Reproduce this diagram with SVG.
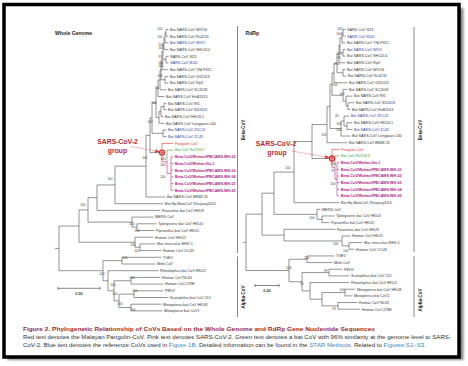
<svg xmlns="http://www.w3.org/2000/svg" width="468" height="366" viewBox="0 0 468 366">
<style>
.br{fill:none;stroke:#3a3a3a;stroke-width:0.55}
.pk{fill:none;stroke:#c02a80;stroke-width:0.6}
.gl{fill:none;stroke:#3c9a3c;stroke-width:0.6}
.rl{fill:none;stroke:#d33;stroke-width:0.6}
.cb{fill:none;stroke:#333;stroke-width:0.6}
text{font-family:"Liberation Sans",Arial,sans-serif}
.lb text{font-size:3.7px;fill:#333}
.bl{fill:#2c3d98 !important}
.rd{fill:#d33 !important}
.gn{fill:#3c9a3c !important}
.sc{fill:#b0187c !important;font-weight:bold}
.bs text{font-size:3.2px;fill:#444;text-anchor:middle}
.ttl{font-size:5.1px;font-weight:bold;fill:#222}
.clade{font-size:4.5px;font-weight:bold;fill:#222;text-anchor:middle}
.grp{font-size:6.8px;font-weight:bold;fill:#c0282d;text-anchor:middle}
.cap{font-size:5.6px;fill:#333}
.lk{fill:#3d86c6}
</style>
<defs>
<filter id="sh" x="-5%" y="-5%" width="110%" height="110%"><feGaussianBlur stdDeviation="1.2"/></filter>
<marker id="ah" markerWidth="4" markerHeight="4" refX="3.5" refY="2" orient="auto" markerUnits="userSpaceOnUse"><path d="M0,0 L4,2 L0,4z" fill="#d33"/></marker>
</defs>
<rect width="468" height="366" fill="#fff"/>
<rect x="7.5" y="8" width="456" height="352" fill="#888" filter="url(#sh)"/>
<rect x="4" y="4.5" width="455" height="352.5" fill="#fff" stroke="#000" stroke-width="3.5"/>

<text class="ttl" x="55" y="35">Whole Genome</text>
<text class="ttl" x="245.5" y="35">RdRp</text>

<g id="connectors">
<path class="br" d="M168.5 29.5H166V36.2H168.5 M166 32.85H165V42.9H168.5 M165 37.88H164V49.6H168.5 M168.5 56.3H166V63H168.5 M164 43.74H163V59.65H166 M163 51.7H162V69.7H168.5 M168.5 76.4H165V83.1H168.5 M162 60.7H161V79.75H165 M161 70.23H160V89.8H166.5 M160 80H158V96.5H164.5 M166.5 103.2H164V109.9H166.5 M164 106.55H161V116.6H163.5 M161 111.58H159V123.3H164.5 M158 88.25H156V117.44H159 M166.5 130H163V136.7H166.5 M156 102.85H152V133.35H163 M152 118.1H150V152.6H162 M150 135.35H146V197H165.5 M146 166.18H115V203.7H163.5 M115 184.94H97V210.4H160.5 M156.5 223.8H137V230.5H154.5 M153.5 217.1H132V227.15H137 M97 197.67H88V222.13H132 M155.5 243.9H140V250.6H161.5 M153.5 237.2H135V247.25H140 M88 209.9H79V242.23H135 M161.5 257.3H122V264H155.5 M160.5 277.4H131V284.1H163.5 M163.5 290.8H134V297.5H168.5 M161.5 304.2H131V310.9H162.5 M134 294.15H119V307.55H131 M131 280.75H114V300.85H119 M158.5 270.7H108V290.8H114 M122 260.65H103V280.75H108 M79 226.07H59V270.7H103 M55 248.4H59"/>
<path class="pk" d="M173.5 156.8H171V190.3H173.5 M171 163.5H173.5 M171 170.2H173.5 M171 176.9H173.5 M171 183.6H173.5 M167 161.83V173.55H171 M162 152.6V161.83H167"/>
<path class="gl" d="M173.5 150.1H167V161.83"/>
<path class="rl" d="M173.5 143.4H162V152.6"/>
<path class="br" d="M345.5 29.5H343V36.16H345.5 M343 32.83H342V42.82H345.5 M345.5 49.48H343V56.14H345.5 M342 37.83H340V52.81H343 M340 45.32H339V62.8H345.5 M345.5 69.46H343V76.12H346.5 M339 54.06H337V72.79H343 M337 63.43H334V82.78H347.5 M354.5 102.76H348V109.42H350.5 M352.5 96.1H346V106.09H348 M347.5 89.44H343V101.1H346 M334 73.1H332V95.27H343 M352.5 122.74H347V129.4H352.5 M349.5 116.08H344V126.07H347 M344 121.08H341V136.06H350.5 M332 84.19H330V128.57H341 M330 106.38H327V142.72H347.5 M327 124.55H312V158.54H332 M312 141.55H294V202.66H339.5 M334.5 215.98H322V222.64H329.5 M320.5 209.32H317V219.31H322 M362.5 242.62H349V249.28H354.5 M350.5 235.96H342V245.95H349 M294 172.1H274V214.32H317 M335.5 229.3H284V240.96H342 M274 193.21H262V235.13H284 M334.5 255.94H307V262.6H332.5 M342.5 269.26H329V275.92H349.5 M355.5 289.24H345V295.9H352.5 M357.5 302.56H338V309.22H360.5 M345 292.57H322V305.89H338 M349.5 282.58H310V299.23H322 M329 272.59H302V290.9H310 M307 259.27H289V281.75H302 M262 214.17H246V270.51H289 M243 242.34H246"/>
<path class="pk" d="M339.5 162.7H337V196H339.5 M337 169.36H339.5 M337 176.02H339.5 M337 182.68H339.5 M337 189.34H339.5 M335 167.7V179.35H337 M332 158.54V167.7H335"/>
<path class="gl" d="M339.5 156.04H335V167.7"/>
<path class="rl" d="M339.5 149.38H332V158.54"/>
<path class="cb" d="M237.5 26V253 M237.5 256.5V317 M414 27V252 M414 256V317"/>
<path class="cb" d="M58 288.3H100 M58 286.8V289.8 M100 286.8V289.8 M255 285.5H279 M255 284V287 M279 284V287"/>
<path d="M131 146.5L158.8 151.6" stroke="#d33" stroke-width="0.6" stroke-dasharray="1,0.8" fill="none" marker-end="url(#ah)"/>
<path d="M292 151L328.6 157.6" stroke="#d33" stroke-width="0.6" stroke-dasharray="1,0.8" fill="none" marker-end="url(#ah)"/>
</g>

<g id="sc2-node-left"><circle cx="162" cy="152.6" r="2.6" fill="#eaa0a0" stroke="#d02a2a" stroke-width="1.1"/><circle cx="162" cy="152.6" r="0.8" fill="#d02a2a"/></g>
<g id="sc2-node-right"><circle cx="332" cy="158.5" r="2.6" fill="#eaa0a0" stroke="#d02a2a" stroke-width="1.1"/><circle cx="332" cy="158.5" r="0.8" fill="#d02a2a"/></g>

<g id="group-label-left"><text class="grp" x="117.5" y="144.2">SARS-CoV-2</text><text class="grp" x="117.5" y="153.4">group</text></g>
<g id="group-label-right"><text class="grp" x="276" y="145.8">SARS-CoV-2</text><text class="grp" x="277" y="154.6">group</text></g>

<g id="clade-labels">
<text class="clade" transform="translate(244.8,130) rotate(-90)">Beta-CoV</text>
<text class="clade" transform="translate(244.8,297) rotate(-90)">Alpha-CoV</text>
<text class="clade" transform="translate(421.8,130) rotate(-90)">Beta-CoV</text>
<text class="clade" transform="translate(421.8,300) rotate(-90)">Alpha-CoV</text>
</g>

<g id="scale-left"><text x="79" y="295.4" font-size="3.8" font-weight="bold" fill="#333" text-anchor="middle">0.50</text></g>
<g id="scale-right"><text x="267" y="292.4" font-size="3.8" font-weight="bold" fill="#333" text-anchor="middle">0.20</text></g>

<g id="left-leaves" class="lb">
<g id="l-wiv16"><text x="170" y="30.8">Bat SARS-CoV WIV16</text></g>
<g id="l-rs4231"><text x="170" y="37.5">Bat SARS-CoV Rs4231</text></g>
<g id="l-wiv1"><text class="bl" x="170" y="44.2">Bat SARS-CoV WIV1</text></g>
<g id="l-shc014"><text x="170" y="50.9">Bat SARS-CoV SHC014</text></g>
<g id="l-sz3"><text x="170" y="57.6">SARS-CoV SZ3</text></g>
<g id="l-bj01"><text class="bl" x="170" y="64.3">SARS-CoV BJ01</text></g>
<g id="l-ynlf31c"><text x="170" y="71">Bat SARS-CoV YNLF31C</text></g>
<g id="l-gx2013"><text x="170" y="77.7">Bat SARS-CoV GX2013</text></g>
<g id="l-rp3"><text x="170" y="84.4">Bat SARS-CoV Rp3</text></g>
<g id="l-sc2018"><text x="168" y="91.1">Bat SARS-CoV SC2018</text></g>
<g id="l-hub2013"><text x="166" y="97.8">Bat SARS-CoV HuB2013</text></g>
<g id="l-rf1"><text x="168" y="104.5">Bat SARS-CoV Rf1</text></g>
<g id="l-sx2013"><text x="168" y="111.2">Bat SARS-CoV SX2013</text></g>
<g id="l-hku3"><text x="165" y="117.9">Bat SARS-CoV HKU3-1</text></g>
<g id="l-longquan"><text x="166" y="124.6">Bat SARS-CoV Longquan-140</text></g>
<g id="l-zxc21"><text class="bl" x="168" y="131.3">Bat SARS-CoV ZXC21</text></g>
<g id="l-zc45"><text class="bl" x="168" y="138">Bat SARS-CoV ZC45</text></g>
<g id="l-pangolin"><text class="rd" x="175" y="144.7">Pangolin-CoV</text></g>
<g id="l-ratg13"><text class="gn" x="175" y="151.4">Bat CoV RaTG13</text></g>
<g id="l-wh03"><text class="sc" x="175" y="158.1">Beta-CoV/Wuhan/IPBCAMS-WH-03</text></g>
<g id="l-hu1"><text class="sc" x="175" y="164.8">Beta-CoV/Wuhan-Hu-1</text></g>
<g id="l-wh02"><text class="sc" x="175" y="171.5">Beta-CoV/Wuhan/IPBCAMS-WH-02</text></g>
<g id="l-wh04"><text class="sc" x="175" y="178.2">Beta-CoV/Wuhan/IPBCAMS-WH-04</text></g>
<g id="l-wh01"><text class="sc" x="175" y="184.9">Beta-CoV/Wuhan/IPBCAMS-WH-01</text></g>
<g id="l-wh05"><text class="sc" x="175" y="191.6">Beta-CoV/Wuhan/IPBCAMS-WH-05</text></g>
<g id="l-bm48"><text x="167" y="198.3">Bat SARS-CoV BM48-31</text></g>
<g id="l-zhejiang"><text x="165" y="205">Bat Hp-BetaCoV Zhejiang2013</text></g>
<g id="l-hku9"><text x="162" y="211.7">Rousettus bat CoV HKU9</text></g>
<g id="l-mers"><text x="155" y="218.4">MERS-CoV</text></g>
<g id="l-hku4"><text x="158" y="225.1">Tylonycteris bat CoV HKU4</text></g>
<g id="l-hku5"><text x="156" y="231.8">Pipistrellus bat CoV HKU5</text></g>
<g id="l-hku1"><text x="155" y="238.5">Human CoV HKU1</text></g>
<g id="l-mhv"><text x="157" y="245.2">Mus musculus MHV-1</text></g>
<g id="l-oc43"><text x="163" y="251.9">Human CoV OC43</text></g>
<g id="l-tgev"><text x="163" y="258.6">TGEV</text></g>
<g id="l-mink"><text x="157" y="265.3">Mink CoV</text></g>
<g id="l-hku2"><text x="160" y="272">Rhinolophus bat CoV HKU2</text></g>
<g id="l-nl63"><text x="162" y="278.7">Human CoV NL63</text></g>
<g id="l-229e"><text x="165" y="285.4">Human CoV 229E</text></g>
<g id="l-pedv"><text x="165" y="292.1">PEDV</text></g>
<g id="l-512"><text x="170" y="298.8">Scotophilus bat CoV 512</text></g>
<g id="l-hku8"><text x="163" y="305.5">Miniopterus bat CoV HKU8</text></g>
<g id="l-cov1"><text x="164" y="312.2">Miniopterus bat CoV1</text></g>
</g>

<g id="right-leaves" class="lb">
<g id="r-sz3"><text x="347" y="30.8">SARS-CoV SZ3</text></g>
<g id="r-bj01"><text class="bl" x="347" y="37.5">SARS-CoV BJ01</text></g>
<g id="r-ynlf31c"><text x="347" y="44.1">Bat SARS-CoV YNLF31C</text></g>
<g id="r-wiv1"><text class="bl" x="347" y="50.8">Bat SARS-CoV WIV1</text></g>
<g id="r-shc014"><text x="347" y="57.4">Bat SARS-CoV SHC014</text></g>
<g id="r-rp3"><text x="347" y="64.1">Bat SARS-CoV Rp3</text></g>
<g id="r-wiv16"><text x="347" y="70.8">Bat SARS-CoV WIV16</text></g>
<g id="r-rs4231"><text x="348" y="77.4">Bat SARS-CoV Rs4231</text></g>
<g id="r-gx2013"><text x="349" y="84.1">Bat SARS-CoV GX2013</text></g>
<g id="r-sc2018"><text x="349" y="90.7">Bat SARS-CoV SC2018</text></g>
<g id="r-rf1"><text x="354" y="97.4">Bat SARS-CoV Rf1</text></g>
<g id="r-sx2013"><text x="356" y="104.1">Bat SARS-CoV SX2013</text></g>
<g id="r-hub2013"><text x="352" y="110.7">Bat SARS-CoV HuB2013</text></g>
<g id="r-zxc21"><text class="bl" x="351" y="117.4">Bat SARS-CoV ZXC21</text></g>
<g id="r-hku3"><text x="354" y="124">Bat SARS-CoV HKU3-1</text></g>
<g id="r-zc45"><text class="bl" x="354" y="130.7">Bat SARS-CoV ZC45</text></g>
<g id="r-longquan"><text x="352" y="137.4">Bat SARS-CoV Longquan-140</text></g>
<g id="r-bm48"><text x="349" y="144">Bat SARS-CoV BM48-31</text></g>
<g id="r-pangolin"><text class="rd" x="341" y="150.7">Pangolin-CoV</text></g>
<g id="r-ratg13"><text class="gn" x="341" y="157.3">Bat CoV RaTG13</text></g>
<g id="r-hu1"><text class="sc" x="341" y="164">Beta-CoV/Wuhan-Hu-1</text></g>
<g id="r-wh01"><text class="sc" x="341" y="170.7">Beta-CoV/Wuhan/IPBCAMS-WH-01</text></g>
<g id="r-wh02"><text class="sc" x="341" y="177.3">Beta-CoV/Wuhan/IPBCAMS-WH-02</text></g>
<g id="r-wh03"><text class="sc" x="341" y="184">Beta-CoV/Wuhan/IPBCAMS-WH-03</text></g>
<g id="r-wh04"><text class="sc" x="341" y="190.6">Beta-CoV/Wuhan/IPBCAMS-WH-04</text></g>
<g id="r-wh05"><text class="sc" x="341" y="197.3">Beta-CoV/Wuhan/IPBCAMS-WH-05</text></g>
<g id="r-zhejiang"><text x="341" y="204">Bat Hp-BetaCoV Zhejiang2013</text></g>
<g id="r-mers"><text x="322" y="210.6">MERS-CoV</text></g>
<g id="r-hku4"><text x="336" y="217.3">Tylonycteris bat CoV HKU4</text></g>
<g id="r-hku5"><text x="331" y="223.9">Pipistrellus bat CoV HKU5</text></g>
<g id="r-hku9"><text x="337" y="230.6">Rousettus bat CoV HKU9</text></g>
<g id="r-hku1"><text x="352" y="237.3">Human CoV HKU1</text></g>
<g id="r-mhv"><text x="364" y="243.9">Mus musculus MHV-1</text></g>
<g id="r-oc43"><text x="356" y="250.6">Human CoV OC43</text></g>
<g id="r-tgev"><text x="336" y="257.2">TGEV</text></g>
<g id="r-mink"><text x="334" y="263.9">Mink CoV</text></g>
<g id="r-pedv"><text x="344" y="270.6">PEDV</text></g>
<g id="r-512"><text x="351" y="277.2">Scotophilus bat CoV 512</text></g>
<g id="r-hku2"><text x="351" y="283.9">Rhinolophus bat CoV HKU2</text></g>
<g id="r-hku8"><text x="357" y="290.5">Miniopterus bat CoV HKU8</text></g>
<g id="r-cov1"><text x="354" y="297.2">Miniopterus bat CoV1</text></g>
<g id="r-nl63"><text x="359" y="303.9">Human CoV NL63</text></g>
<g id="r-229e"><text x="362" y="310.5">Human CoV 229E</text></g>
</g>

<g id="bootstrap-left" class="bs">
<text x="160" y="30.4">100</text><text x="160" y="37.8">100</text><text x="161" y="46.1">100</text><text x="161" y="49.1">100</text><text x="160" y="57.6">91</text><text x="161" y="63.6">100</text><text x="161" y="66.6">100</text><text x="160" y="77.1">100</text><text x="157" y="89.1">90</text><text x="154" y="104.1">100</text><text x="150" y="122.8">100</text><text x="145" y="159.1">100</text><text x="163" y="160.1">100</text><text x="163" y="166.1">100</text><text x="163" y="178.1">100</text><text x="110" y="180.4">100</text><text x="83" y="206.1">100</text><text x="132" y="225.4">100</text><text x="137" y="232.1">100</text><text x="133" y="246.1">100</text><text x="137" y="251.8">100</text><text x="125" y="259.4">100</text><text x="102" y="275.1">100</text><text x="132" y="278.8">100</text><text x="113" y="286.1">100</text><text x="135" y="292.1">100</text><text x="115" y="295.1">100</text><text x="120" y="305.1">100</text><text x="133" y="311.1">100</text>
</g>
<g id="bootstrap-right" class="bs">
<text x="340" y="30.4">100</text><text x="339" y="34.6">100</text><text x="339" y="55.1">100</text><text x="339" y="58.6">91</text><text x="337" y="65.1">100</text><text x="335" y="86.1">100</text><text x="342" y="95.1">100</text><text x="337" y="117.1">65</text><text x="339" y="125.1">100</text><text x="339" y="131.1">100</text><text x="324" y="136.1">100</text><text x="333" y="165.1">100</text><text x="333" y="171.8">97</text><text x="333" y="184.6">100</text><text x="288" y="168.8">100</text><text x="312" y="219.4">100</text><text x="335.7" y="245.4">100</text><text x="345.7" y="251.8">100</text><text x="306.7" y="258.8">100</text><text x="325.7" y="271.8">99</text><text x="289" y="268.8">100</text><text x="302" y="285.1">95</text><text x="342.3" y="291.1">100</text><text x="334" y="310.4">93</text>
</g>

<g id="caption">
<text x="23" y="331.3" font-size="5.8" font-weight="bold" fill="#9c2b2b" textLength="352" lengthAdjust="spacingAndGlyphs">Figure 2.  Phylogenetic Relationship of CoVs Based on the Whole Genome and RdRp Gene Nucleotide Sequences</text>
<text class="cap" x="23" y="339.3" textLength="428" lengthAdjust="spacingAndGlyphs">Red text denotes the Malayan Pangolin-CoV. Pink text denotes SARS-CoV-2. Green text denotes a bat CoV with 96% similarity at the genome level to SARS-</text>
<text class="cap" x="23" y="347" textLength="403" lengthAdjust="spacingAndGlyphs">CoV-2. Blue text denotes the reference CoVs used in <tspan class="lk">Figure 1B</tspan>. Detailed information can be found in the <tspan class="lk">STAR Methods</tspan>. Related to <tspan class="lk">Figures S1–S3</tspan>.</text>
</g>
</svg>
